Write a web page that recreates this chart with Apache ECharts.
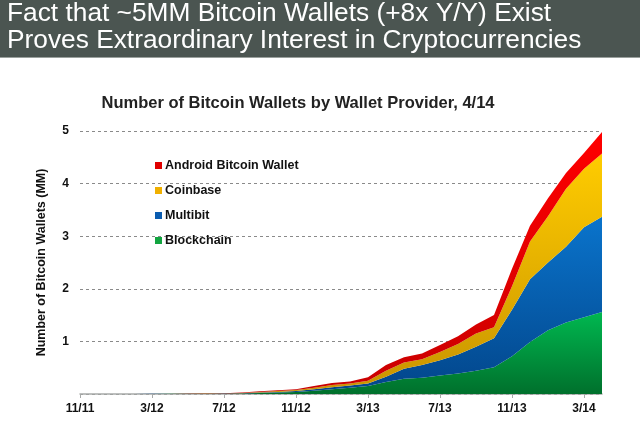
<!DOCTYPE html>
<html><head><meta charset="utf-8">
<script src="https://cdn.jsdelivr.net/npm/echarts@6/dist/echarts.min.js"></script>
<style>html,body{margin:0;padding:0;background:#fff}#c{width:640px;height:438px}</style>
</head><body><div id="c"></div>
<script>
var months = ['11/11','12/11','1/12','2/12','3/12','4/12','5/12','6/12','7/12','8/12','9/12','10/12','11/12','12/12','1/13','2/13','3/13','4/13','5/13','6/13','7/13','8/13','9/13','10/13','11/13','12/13','1/14','2/14','3/14','4/14'];
var blockchain = [0,0.001,0.001,0.002,0.002,0.003,0.004,0.005,0.005,0.01,0.02,0.03,0.04,0.06,0.09,0.12,0.15,0.23,0.29,0.31,0.35,0.39,0.44,0.51,0.72,0.99,1.21,1.36,1.46,1.56];
var multibit   = [0,0,0,0,0.001,0.001,0.002,0.002,0.003,0.005,0.01,0.01,0.015,0.03,0.04,0.04,0.05,0.10,0.19,0.24,0.29,0.36,0.46,0.55,0.88,1.19,1.29,1.44,1.71,1.81];
var coinbase   = [0,0,0,0,0,0.001,0.001,0.002,0.002,0.005,0.01,0.015,0.02,0.03,0.04,0.04,0.05,0.11,0.12,0.11,0.16,0.20,0.25,0.21,0.45,0.72,0.88,1.10,1.11,1.20];
var android    = [0,0,0,0,0,0.001,0.002,0.003,0.005,0.01,0.01,0.015,0.015,0.03,0.04,0.04,0.07,0.11,0.10,0.11,0.13,0.15,0.17,0.23,0.33,0.30,0.34,0.30,0.30,0.41];
var yTicks = [0,1,2,3,4,5];

function grad(top, bottom){
  return new echarts.graphic.LinearGradient(0,0,0,1,[{offset:0,color:top},{offset:1,color:bottom}]);
}
function ser(name, data, top, bottom, legendColor){
  return {name:name,type:'line',stack:'total',data:data,symbol:'none',smooth:false,
    lineStyle:{width:0},itemStyle:{color:legendColor},
    areaStyle:{color:grad(top,bottom),opacity:1},emphasis:{disabled:true}};
}
var chart = echarts.init(document.getElementById('c'));
chart.setOption({
  animation:false,
  graphic:[
    {type:'rect',left:0,top:0,shape:{width:640,height:57},style:{fill:'#4b5551'}},
    {type:'rect',left:0,top:57,shape:{width:640,height:1},style:{fill:'#9aa09d'}},
    {type:'text',left:7,top:1,style:{text:'Fact that ~5MM Bitcoin Wallets (+8x Y/Y) Exist',fill:'#ffffff',font:'26.3px "Liberation Sans", Arial, sans-serif'}},
    {type:'text',left:7,top:28,style:{text:'Proves Extraordinary Interest in Cryptocurrencies',fill:'#ffffff',font:'26.3px "Liberation Sans", Arial, sans-serif'}}
  ],
  title:{text:'Number of Bitcoin Wallets by Wallet Provider, 4/14',left:293,textAlign:'center',top:90,
    textStyle:{fontFamily:'Liberation Sans, Arial, sans-serif',fontWeight:'bold',fontSize:16.5,color:'#222'}},
  legend:{orient:'vertical',left:150,top:154,itemGap:12,itemWidth:7,itemHeight:7,icon:'rect',
    data:['Android Bitcoin Wallet','Coinbase','Multibit','Blockchain'],
    textStyle:{fontFamily:'Liberation Sans, Arial, sans-serif',fontWeight:'bold',fontSize:12.5,color:'#111',padding:[0,0,0,-2]}},
  grid:{left:80,right:38,top:131,bottom:44,containLabel:false},
  xAxis:{type:'category',data:months,boundaryGap:false,
    axisLine:{lineStyle:{color:'#a8aaa9',width:1.5}},
    axisTick:{show:true,interval:3,length:4,lineStyle:{color:'#a8aaa9'}},
    axisLabel:{interval:3,margin:9,fontFamily:'Liberation Sans, Arial, sans-serif',fontWeight:'bold',fontSize:12,color:'#111'},
    splitLine:{show:false}},
  yAxis:{type:'value',min:yTicks[0],max:yTicks[yTicks.length-1],interval:1,
    name:'Number of Bitcoin Wallets (MM)',nameLocation:'middle',nameGap:32,nameRotate:90,
    nameTextStyle:{fontFamily:'Liberation Sans, Arial, sans-serif',fontWeight:'bold',fontSize:12.5,color:'#111'},
    axisLine:{show:false},axisTick:{show:false},
    axisLabel:{margin:11,fontFamily:'Liberation Sans, Arial, sans-serif',fontWeight:'bold',fontSize:12,color:'#111',
      formatter:function(v){return v===0?'':String(v);}},
    splitLine:{show:true,lineStyle:{color:'#8a8a8a',type:[3,3],width:1}}},
  series:[
    ser('Blockchain',blockchain,'#00b850','#00702c','#12a540'),
    ser('Multibit',multibit,'#0a74cc','#02458a','#0a5cb0'),
    ser('Coinbase',coinbase,'#ffcc00','#c89300','#f0b000'),
    ser('Android Bitcoin Wallet',android,'#ff0000','#c80000','#e00000')
  ]
});
</script></body></html>
